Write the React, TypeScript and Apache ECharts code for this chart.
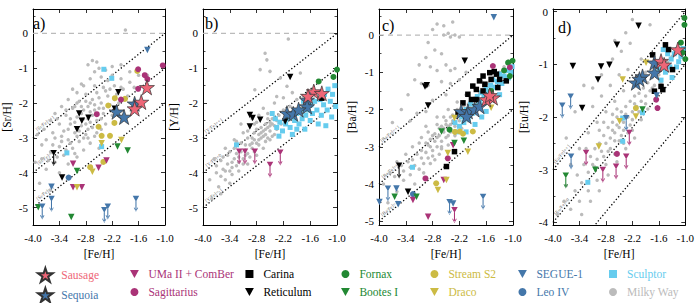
import React, { useEffect, useRef } from 'react';
import * as echarts from 'echarts';

type Pt = [number, number];

const FONT = '"Liberation Serif","Times New Roman",Times,serif';
const STAR = 'path://M50,0 L61.2,34.5 L97.6,34.5 L68.2,55.9 L79.4,90.5 L50,69.1 L20.6,90.5 L31.8,55.9 L2.4,34.5 L38.8,34.5 Z';
const TRI = 'path://M0,0 L10,0 L5,9 Z';
const SQUARE = 'path://M0,0 L10,0 L10,10 L0,10 Z';
const TRI_ARROW = 'path://M0,0 L10,0 L5,9 Z M4.2,8 L5.8,8 L5.8,23 L4.2,23 Z M1.6,18.5 L5,25 L8.4,18.5 L7.4,18 L5,22.6 L2.6,18 Z';

// ---------- axes ----------
const feMin = -4.0;
const feMax = -1.0;
const feStep = 0.6;
const panelLetters = ['a)', 'b)', 'c)', 'd)'];
const elements = ['Sr', 'Y', 'Ba', 'Eu'];
const yMins = [-5.5, -5.5, -5.1, -4.05];
const yMaxs = [0.7, 0.7, 0.7, 0.05];
const ratioOffsets = [1, 0, -1];
const ratioTexts = ['+1', '0', '-1'];

// ---------- panel a : [Sr/H] ----------
const srMilkyWay: Pt[] = [[-2.65,-0.78],[-2.55,-0.82],[-2.75,-0.9],[-2.5,-1.0],[-2.35,-1.05],[-2.6,-1.1],[-2.2,-1.2],[-2.45,-1.25],[-2.7,-1.3],[-2.3,-1.35],[-2.0,-1.3],[-1.8,-1.1],[-1.6,-1.2],[-1.9,0.1],[-2.85,-1.5],[-2.6,-1.5],[-2.4,-1.55],[-2.15,-1.5],[-1.95,-1.6],[-3.0,-1.7],[-2.8,-1.75],[-2.55,-1.7],[-2.3,-1.8],[-2.1,-1.75],[-3.2,-1.9],[-2.95,-1.95],[-2.7,-2.0],[-2.45,-2.0],[-2.25,-2.05],[-3.35,-2.1],[-3.1,-2.15],[-2.85,-2.2],[-2.6,-2.2],[-2.4,-2.3],[-3.5,-2.3],[-3.25,-2.35],[-3.0,-2.4],[-2.75,-2.45],[-2.55,-2.5],[-3.6,-2.5],[-3.4,-2.6],[-3.15,-2.6],[-2.9,-2.65],[-2.65,-2.7],[-3.3,-2.8],[-3.05,-2.85],[-2.8,-2.9],[-2.6,-2.95],[-3.5,-3.0],[-3.2,-3.05],[-2.95,-3.1],[-2.7,-3.15],[-3.4,-3.25],[-3.1,-3.3],[-2.85,-3.35],[-3.6,-3.4],[-3.3,-3.5],[-3.0,-3.55],[-3.5,-3.7],[-3.2,-3.75],[-3.7,-3.9],[-3.4,-4.0],[-3.85,-4.3],[-3.6,-4.5],[-3.9,-2.9],[-3.75,-2.75],[-2.35,-2.6],[-2.2,-2.35],[-2.05,-2.0],[-1.85,-1.8],[-1.7,-1.55],[-1.4,-1.2],[-3.8,-3.2],[-2.5,-3.3],[-2.9,-1.45],[-3.1,-1.6],[-2.2,-0.95],[-2.0,-0.9],[-2.9,-2.3],[-2.7,-2.25],[-2.5,-2.15],[-2.8,-2.6],[-2.55,-2.85],[-3.05,-2.55],[-3.2,-2.75],[-2.95,-2.8],[-2.7,-2.55],[-2.45,-2.45],[-3.35,-2.95],[-3.15,-3.15],[-2.85,-3.0],[-2.65,-1.9],[-2.35,-1.65],[-3.05,-2.1],[-2.8,-1.95],[-3.45,-3.55],[-3.65,-3.65],[-3.25,-3.35],[-3.0,-2.0],[-2.75,-2.1],[-2.5,-1.85],[-2.25,-1.6],[-3.25,-2.2],[-3.45,-2.45],[-3.0,-2.95],[-2.75,-3.0],[-2.45,-2.75],[-3.55,-2.85],[-3.7,-3.05],[-3.35,-3.1],[-3.15,-2.45],[-2.9,-2.1],[-2.65,-2.35],[-2.4,-2.15],[-2.15,-1.9],[-2.0,-1.55],[-1.8,-1.4],[-3.55,-3.2],[-3.05,-3.45],[-2.75,-2.75],[-2.85,-2.45],[-2.6,-2.05],[-3.8,-3.6],[-3.95,-3.7]];
const srSausage: Pt[] = [[-1.41,-1.55],[-1.54,-1.97],[-1.69,-2.16]];
const srSequoia: Pt[] = [[-1.69,-2.02],[-2.10,-2.25],[-1.93,-2.40]];
const srUMa: Pt[] = [[-3.09,-3.74],[-2.51,-3.86],[-2.33,-3.65],[-3.09,-4.42],[-2.89,-4.42]];
const srUMaLim: Pt[] = [];
const srSag: Pt[] = [[-1.05,-0.92],[-1.61,-1.03],[-1.46,-1.20],[-1.40,-1.31],[-1.61,-1.59],[-2.00,-1.90],[-2.55,-2.32]];
const srCarina: Pt[] = [];
const srReticulum: Pt[] = [[-2.95,-2.30],[-2.74,-2.42],[-2.89,-2.51],[-3.00,-2.75],[-2.06,-1.69],[-2.14,-2.16],[-3.34,-4.14]];
const srReticulumLim: Pt[] = [[-3.53,-3.43]];
const srFornax: Pt[] = [];
const srBootes: Pt[] = [[-2.08,-3.25],[-1.85,-3.36],[-3.00,-3.95],[-3.88,-4.99],[-3.13,-5.27]];
const srBootesLim: Pt[] = [];
const srS2: Pt[] = [[-1.63,-1.08],[-2.14,-1.86],[-1.91,-1.88],[-2.29,-2.07],[-2.15,-2.57],[-2.51,-2.68],[-2.44,-2.94],[-2.25,-2.94],[-2.40,-3.69],[-2.70,-3.84]];
const srDraco: Pt[] = [[-2.44,-3.15],[-1.99,-3.06],[-2.65,-3.97],[-3.00,-4.42]];
const srSegue: Pt[] = [[-1.40,-0.48],[-3.58,-4.40]];
const srSegueLim: Pt[] = [[-3.79,-4.97],[-3.58,-4.75],[-2.38,-5.07],[-2.30,-4.97],[-1.66,-4.75]];
const srLeo: Pt[] = [[-3.19,-4.14]];
const srSculptor: Pt[] = [[-2.39,-1.03],[-2.21,-1.29],[-3.23,-3.43],[-2.44,-3.25]];

// ---------- panel b : [Y/H] ----------
const yMilkyWay: Pt[] = [[-2.09,-0.16],[-2.61,-0.57],[-2.57,-0.76],[-2.72,-1.04],[-2.5,-1.09],[-2.84,-1.62],[-2.27,-1.28],[-1.82,-1.14],[-2.12,-1.52],[-2.35,-1.81],[-3.8,-4.75],[-3.65,-4.4],[-3.5,-4.2],[-3.55,-3.9],[-3.4,-3.95],[-3.35,-3.7],[-3.25,-3.8],[-3.2,-3.55],[-3.1,-3.6],[-3.05,-3.35],[-3.0,-3.45],[-2.95,-3.2],[-2.9,-3.3],[-2.85,-3.05],[-2.8,-3.15],[-2.75,-2.9],[-2.7,-3.0],[-2.65,-2.8],[-2.6,-2.9],[-2.55,-2.7],[-2.5,-2.8],[-2.45,-2.6],[-2.4,-2.65],[-2.35,-2.5],[-3.3,-3.3],[-3.15,-3.15],[-3.0,-3.0],[-2.85,-2.85],[-2.7,-2.7],[-2.6,-2.6],[-3.45,-3.5],[-3.6,-3.65],[-3.7,-4.0],[-3.2,-3.95],[-3.0,-3.75],[-2.8,-3.5],[-2.65,-3.3],[-2.5,-3.05],[-2.4,-2.9],[-3.1,-2.85],[-2.95,-2.65],[-2.8,-2.55],[-2.9,-2.45],[-3.3,-3.05],[-3.5,-3.3],[-3.75,-3.6],[-3.85,-4.2],[-2.75,-2.35],[-2.55,-2.45],[-2.3,-2.35],[-2.25,-2.6],[-3.4,-4.3],[-3.6,-4.6],[-3.25,-3.45],[-3.05,-3.2],[-2.9,-3.0],[-2.7,-2.85],[-2.5,-2.55],[-2.45,-2.95],[-2.6,-3.1],[-2.85,-3.4],[-3.1,-3.75],[-3.35,-4.05],[-2.2,-2.2],[-2.05,-2.1],[-1.9,-1.9],[-1.75,-1.8],[-2.95,-2.3],[-3.15,-2.6],[-2.65,-2.15],[-2.4,-2.0],[-2.2,-1.85],[-2.0,-1.7],[-3.15,-3.4],[-2.95,-3.55],[-2.75,-3.2],[-2.55,-3.0],[-3.3,-3.6],[-3.5,-3.95],[-3.35,-3.85],[-3.2,-3.7],[-3.05,-3.5],[-2.9,-3.15],[-2.75,-3.05],[-2.6,-2.75],[-2.5,-2.65],[-2.35,-2.75],[-3.4,-3.4],[-3.55,-3.55],[-3.7,-3.8],[-2.8,-2.75],[-2.65,-2.95],[-2.45,-2.45],[-2.55,-2.3],[-2.85,-2.6],[-3.0,-2.8],[-3.25,-3.1],[-3.45,-3.75],[-3.6,-4.1]];
const ySausage: Pt[] = [[-1.52,-1.67],[-1.34,-1.72],[-1.65,-1.80]];
const ySequoia: Pt[] = [[-1.67,-1.91],[-1.67,-2.10],[-2.12,-2.29],[-1.98,-2.31],[-1.86,-2.19]];
const yUMa: Pt[] = [];
const yUMaLim: Pt[] = [[-3.19,-3.39],[-3.06,-3.39],[-2.84,-3.39],[-2.27,-3.42],[-2.50,-3.77]];
const ySag: Pt[] = [];
const yCarina: Pt[] = [[-1.34,-1.86]];
const yReticulum: Pt[] = [[-2.05,-1.25],[-2.95,-2.34],[-2.89,-2.43],[-2.72,-2.48],[-2.95,-2.67],[-2.16,-2.53]];
const yReticulumLim: Pt[] = [];
const yFornax: Pt[] = [[-1.00,-1.04],[-1.08,-1.25],[-1.41,-1.38]];
const yBootes: Pt[] = [];
const yBootesLim: Pt[] = [];
const yS2: Pt[] = [];
const yDraco: Pt[] = [];
const ySegue: Pt[] = [];
const ySegueLim: Pt[] = [];
const yLeo: Pt[] = [];
const ySculptor: Pt[] = [[-2.38,-2.45],[-2.35,-2.7],[-2.3,-2.95],[-2.28,-2.55],[-2.22,-2.8],[-2.15,-2.6],[-2.1,-2.45],[-2.05,-2.7],[-2.0,-2.9],[-1.95,-2.5],[-1.9,-2.3],[-1.85,-2.6],[-1.8,-2.2],[-1.78,-2.45],[-1.72,-2.75],[-1.7,-2.35],[-1.65,-2.2],[-1.6,-2.5],[-1.58,-2.05],[-1.55,-2.3],[-1.5,-1.95],[-1.45,-2.2],[-1.42,-2.6],[-1.38,-1.9],[-1.35,-2.35],[-1.3,-2.05],[-1.28,-1.75],[-1.22,-2.2],[-1.2,-1.6],[-1.15,-1.95],[-1.12,-2.4],[-1.1,-1.75],[-1.05,-1.5],[-1.03,-2.1],[-1.6,-1.75],[-1.75,-1.95],[-3.25,-3.2],[-1.25,-2.65],[-1.9,-2.75],[-2.45,-2.3]];

// ---------- panel c : [Ba/H] ----------
const baMilkyWay: Pt[] = [[-2.7,0.3],[-2.55,0.25],[-2.35,0.35],[-2.45,0.05],[-2.3,0.0],[-2.2,-0.05],[-2.4,-0.05],[-2.55,0.0],[-2.8,0.15],[-2.9,-0.2],[-2.75,-0.4],[-2.6,-0.5],[-2.5,-0.8],[-2.4,-0.95],[-2.7,-0.95],[-2.3,-0.9],[-2.85,-0.85],[-2.95,-0.6],[-3.1,-0.8],[-3.2,-1.2],[-3.05,-1.3],[-2.9,-1.35],[-2.6,-1.25],[-2.4,-1.3],[-2.2,-1.2],[-2.05,-1.0],[-1.9,-1.35],[-3.35,-1.6],[-3.5,-2.0],[-3.7,-2.35],[-3.3,-2.3],[-3.15,-2.1],[-2.8,-1.75],[-2.5,-1.6],[-2.95,-2.05],[-3.6,-3.4],[-3.75,-3.7],[-3.9,-4.0],[-3.8,-4.5],[-3.6,-4.2],[-3.45,-3.9],[-3.3,-3.75],[-3.2,-3.5],[-3.1,-3.6],[-3.05,-3.3],[-3.0,-3.45],[-2.95,-3.15],[-2.9,-3.3],[-2.85,-3.0],[-2.8,-3.1],[-2.75,-2.85],[-2.7,-3.0],[-2.65,-2.7],[-2.6,-2.85],[-2.55,-2.6],[-2.5,-2.75],[-2.45,-2.45],[-2.4,-2.6],[-2.35,-2.3],[-2.3,-2.45],[-2.25,-2.15],[-2.2,-2.3],[-2.15,-2.0],[-2.1,-2.15],[-2.0,-1.85],[-1.95,-1.95],[-1.85,-1.7],[-1.75,-1.55],[-1.65,-1.4],[-1.55,-1.3],[-1.45,-1.15],[-1.3,-1.0],[-1.2,-0.85],[-1.1,-0.7],[-3.35,-3.4],[-3.15,-3.2],[-2.95,-2.9],[-2.8,-2.7],[-2.65,-2.5],[-2.5,-2.4],[-2.4,-2.2],[-3.25,-3.0],[-3.05,-2.75],[-2.9,-2.6],[-2.7,-2.4],[-2.55,-2.2],[-3.4,-3.2],[-2.85,-3.45],[-2.65,-3.2],[-2.45,-2.95],[-2.3,-2.7],[-3.0,-3.7],[-3.2,-4.0],[-2.75,-3.35],[-2.6,-3.05],[-2.95,-2.45],[-2.7,-2.2],[-2.45,-2.0],[-2.25,-1.8],[-2.05,-1.6],[-1.85,-1.45],[-1.7,-1.25],[-2.0,-2.3],[-2.15,-2.5],[-3.5,-3.5],[-3.65,-3.8],[-2.9,-2.95],[-2.75,-2.65],[-2.6,-2.45],[-2.5,-2.3],[-2.35,-2.15],[-2.8,-3.25],[-2.6,-3.0],[-2.45,-2.7],[-3.05,-3.1],[-3.25,-3.35],[-2.7,-2.75],[-2.55,-2.5],[-2.4,-2.4],[-2.85,-2.8],[-3.1,-2.9],[-2.25,-2.0],[-2.1,-1.9],[-1.95,-1.75],[-3.45,-3.65],[-3.3,-3.55]];
const baSausage: Pt[] = [[-1.45,-1.68],[-1.60,-1.73],[-1.52,-1.62]];
const baSequoia: Pt[] = [[-2.16,-2.05],[-2.01,-2.05],[-1.86,-2.00],[-1.75,-1.91],[-2.04,-2.18]];
const baUMa: Pt[] = [[-2.34,-2.96],[-3.24,-4.43],[-2.55,-3.89],[-2.90,-4.88]];
const baUMaLim: Pt[] = [[-2.31,-4.70]];
const baSag: Pt[] = [[-1.45,-0.83],[-2.46,-3.31],[-2.96,-3.85],[-1.07,-0.87]];
const baCarina: Pt[] = [[-1.52,-1.01],[-1.37,-1.05],[-1.67,-1.10],[-1.49,-1.19],[-1.75,-1.23],[-1.30,-1.19],[-1.90,-1.37],[-1.82,-1.46],[-1.67,-1.50],[-2.01,-1.59],[-1.93,-1.73],[-1.82,-1.73],[-2.12,-1.82],[-1.34,-1.41],[-1.15,-1.23],[-2.23,-2.09],[-2.31,-3.13],[-2.49,-3.53],[-1.63,-1.32],[-1.42,-0.98]];
const baReticulum: Pt[] = [[-2.08,-0.69],[-2.93,-1.35],[-2.97,-1.38],[-2.90,-1.89],[-3.35,-4.21]];
const baReticulumLim: Pt[] = [[-3.55,-3.50]];
const baFornax: Pt[] = [[-1.01,-0.69],[-1.11,-0.74],[-1.49,-1.50],[-1.07,-1.10],[-2.42,-2.54],[-1.20,-0.95]];
const baBootes: Pt[] = [[-2.60,-2.59],[-2.31,-2.90],[-2.10,-2.84],[-3.65,-4.34],[-3.16,-4.34]];
const baBootesLim: Pt[] = [];
const baS2: Pt[] = [[-2.19,-2.59],[-2.12,-2.65],[-1.90,-2.59],[-2.72,-3.98],[-2.30,-2.60]];
const baDraco: Pt[] = [[-1.49,-1.95],[-2.31,-2.23],[-2.46,-3.17],[-2.01,-3.13],[-2.68,-4.16],[-2.49,-3.89]];
const baSegue: Pt[] = [[-1.43,0.48],[-3.99,-4.48],[-3.61,-4.12],[-3.57,-4.54],[-2.34,-4.52]];
const baSegueLim: Pt[] = [[-3.80,-4.12],[-2.42,-4.48],[-1.67,-4.34]];
const baLeo: Pt[] = [[-3.24,-4.27]];
const baSculptor: Pt[] = [[-1.02,-0.85],[-1.05,-1.0],[-1.1,-1.15],[-1.15,-0.95],[-1.2,-1.1],[-1.25,-1.3],[-1.3,-1.05],[-1.35,-1.25],[-1.4,-1.4],[-1.45,-1.2],[-1.5,-1.35],[-1.55,-1.55],[-1.6,-1.45],[-1.65,-1.65],[-1.7,-1.55],[-1.75,-1.8],[-1.8,-1.65],[-1.85,-1.9],[-1.9,-2.1],[-1.95,-1.85],[-2.0,-2.25],[-2.05,-2.0],[-2.1,-2.35],[-2.15,-2.2],[-2.2,-2.45],[-2.25,-2.6],[-1.7,-2.2],[-1.85,-2.4],[-1.6,-2.05],[-2.05,-2.6],[-3.25,-3.55],[-1.3,-1.6],[-2.3,-2.35]];

// ---------- panel d : [Eu/H] ----------
const euMilkyWay: Pt[] = [[-3.9,-3.85],[-3.75,-3.6],[-3.6,-3.75],[-3.7,-3.3],[-3.5,-3.4],[-3.45,-3.1],[-3.35,-3.25],[-3.3,-2.9],[-3.2,-3.05],[-3.15,-2.75],[-3.1,-2.9],[-3.05,-2.6],[-3.0,-2.8],[-2.95,-2.5],[-2.9,-2.65],[-2.85,-2.35],[-2.8,-2.5],[-2.75,-2.2],[-2.7,-2.4],[-2.65,-2.1],[-2.6,-2.3],[-2.55,-2.0],[-2.5,-2.2],[-2.45,-1.9],[-2.4,-2.1],[-2.35,-1.8],[-2.3,-2.0],[-2.25,-1.7],[-2.2,-1.9],[-2.15,-1.6],[-2.1,-1.8],[-2.05,-1.55],[-2.0,-1.7],[-1.95,-1.45],[-1.9,-1.6],[-1.85,-1.35],[-1.8,-1.5],[-1.75,-1.25],[-1.7,-1.4],[-1.6,-1.2],[-1.5,-1.1],[-1.4,-0.95],[-1.3,-0.85],[-1.2,-0.7],[-3.4,-3.6],[-3.2,-3.4],[-3.0,-3.2],[-2.8,-2.9],[-2.6,-2.7],[-2.4,-2.5],[-2.2,-2.25],[-3.6,-2.9],[-3.4,-2.6],[-3.2,-2.3],[-3.0,-2.1],[-2.8,-1.9],[-2.6,-1.7],[-2.4,-1.5],[-2.7,-1.4],[-2.9,-1.6],[-3.1,-1.8],[-3.3,-1.4],[-3.5,-1.9],[-3.7,-2.4],[-2.5,-1.2],[-2.3,-1.1],[-2.65,-0.9],[-2.45,-0.75],[-2.25,-0.6],[-2.35,-0.4],[-2.2,-0.15],[-1.8,-0.25],[-2.6,-0.55],[-2.9,-1.2],[-3.1,-1.45],[-2.0,-0.9],[-1.9,-1.15],[-2.75,-3.1],[-2.95,-3.4],[-3.15,-3.6],[-3.35,-3.85],[-2.55,-2.85],[-2.35,-2.6],[-2.15,-2.4],[-2.0,-2.05],[-1.85,-1.85],[-1.65,-1.6],[-2.7,-2.6],[-2.5,-2.45],[-2.3,-2.3],[-2.45,-2.05],[-2.65,-2.25],[-2.6,-2.45],[-2.4,-2.25],[-2.2,-2.05],[-2.75,-2.65],[-2.55,-2.15],[-2.35,-1.95],[-2.15,-1.75],[-2.85,-2.75],[-3.05,-2.95],[-2.45,-2.35],[-2.25,-2.15],[-2.05,-1.9],[-1.9,-1.75],[-2.65,-1.95],[-2.85,-2.1],[-3.25,-2.6],[-2.95,-2.25],[-2.55,-1.85],[-1.75,-1.45],[-1.55,-1.35]];
const euSausage: Pt[] = [[-1.17,-0.72],[-1.55,-0.94],[-1.48,-1.01]];
const euSequoia: Pt[] = [[-1.70,-0.97],[-1.70,-1.16],[-1.97,-1.23],[-2.12,-1.35],[-2.04,-1.28]];
const euUMa: Pt[] = [[-1.44,-1.07]];
const euUMaLim: Pt[] = [[-3.25,-2.68],[-2.87,-3.00],[-2.57,-2.94],[-2.34,-2.75],[-2.27,-2.30]];
const euSag: Pt[] = [[-1.66,-1.67],[-1.63,-1.83],[-2.55,-2.70]];
const euCarina: Pt[] = [[-1.45,-0.63],[-1.38,-0.72],[-1.74,-0.82],[-1.29,-1.10],[-1.55,-1.42],[-1.51,-1.48],[-1.70,-1.51]];
const euReticulum: Pt[] = [[-2.06,-0.27],[-2.55,-0.63],[-2.91,-1.04],[-2.72,-1.01],[-3.55,-1.03],[-2.98,-1.29],[-3.34,-1.83]];
const euReticulumLim: Pt[] = [];
const euFornax: Pt[] = [[-1.02,-0.12],[-1.02,-0.25],[-1.10,-0.59],[-1.06,-0.78],[-1.00,-0.90]];
const euBootes: Pt[] = [[-3.04,-3.00],[-1.97,-1.86]];
const euBootesLim: Pt[] = [[-3.71,-3.11]];
const euS2: Pt[] = [[-2.12,-1.83]];
const euDraco: Pt[] = [[-2.42,-1.29],[-1.89,-0.97],[-2.96,-2.56],[-2.49,-2.08],[-2.12,-1.99]];
const euSegue: Pt[] = [[-1.65,-1.59]];
const euSegueLim: Pt[] = [[-3.79,-1.78],[-3.60,-1.61],[-3.59,-2.75],[-2.34,-2.02]];
const euLeo: Pt[] = [];
const euSculptor: Pt[] = [[-1.5,-0.72],[-1.4,-0.8],[-1.32,-0.9],[-1.25,-0.8],[-1.15,-0.95],[-1.1,-0.85],[-1.2,-1.05],[-1.35,-1.05],[-1.45,-1.15],[-1.55,-1.3],[-1.3,-1.25],[-1.6,-1.1],[-2.42,-2.02],[-2.42,-2.46],[-3.21,-3.24],[-1.97,-1.92],[-1.05,-0.7]];

// ---------- categories ----------
const categories: any[] = [
  { name: 'Milky Way', symbol: 'circle', icon: 'circle', size: 3.5, color: '#BBBBBB', data: [srMilkyWay, yMilkyWay, baMilkyWay, euMilkyWay] },
  { name: 'Sculptor', symbol: 'rect', icon: SQUARE, size: 5, color: '#66CCEE', data: [srSculptor, ySculptor, baSculptor, euSculptor] },
  { name: 'Carina', symbol: 'rect', icon: SQUARE, size: 5.5, color: '#000000', data: [srCarina, yCarina, baCarina, euCarina] },
  { name: 'Fornax', symbol: 'circle', icon: 'circle', size: 6, color: '#228833', data: [srFornax, yFornax, baFornax, euFornax] },
  { name: 'Stream S2', symbol: 'circle', icon: 'circle', size: 6, color: '#CCBB44', data: [srS2, yS2, baS2, euS2] },
  { name: 'Sagittarius', symbol: 'circle', icon: 'circle', size: 6, color: '#AA3377', data: [srSag, ySag, baSag, euSag] },
  { name: 'Leo IV', symbol: 'circle', icon: 'circle', size: 6, color: '#4477AA', data: [srLeo, yLeo, baLeo, euLeo] },
  { name: 'UMa II + ComBer', symbol: TRI, icon: TRI, size: 6.5, color: '#AA3377', data: [srUMa, yUMa, baUMa, euUMa], lim: [srUMaLim, yUMaLim, baUMaLim, euUMaLim] },
  { name: 'Reticulum', symbol: TRI, icon: TRI, size: 6.5, color: '#000000', data: [srReticulum, yReticulum, baReticulum, euReticulum], lim: [srReticulumLim, yReticulumLim, baReticulumLim, euReticulumLim] },
  { name: 'Bootes I', symbol: TRI, icon: TRI, size: 6.5, color: '#228833', data: [srBootes, yBootes, baBootes, euBootes], lim: [srBootesLim, yBootesLim, baBootesLim, euBootesLim] },
  { name: 'Draco', symbol: TRI, icon: TRI, size: 6.5, color: '#CCBB44', data: [srDraco, yDraco, baDraco, euDraco] },
  { name: 'SEGUE-1', symbol: TRI, icon: TRI, size: 6.5, color: '#4477AA', data: [srSegue, ySegue, baSegue, euSegue], lim: [srSegueLim, ySegueLim, baSegueLim, euSegueLim] },
  { name: 'Sequoia', symbol: STAR, icon: STAR, size: 15, color: '#4477AA', data: [srSequoia, ySequoia, baSequoia, euSequoia] },
  { name: 'Sausage', symbol: STAR, icon: STAR, size: 15, color: '#EE6677', data: [srSausage, ySausage, baSausage, euSausage] },
];

const legendColumns = [
  ['Sausage', 'Sequoia'],
  ['UMa II + ComBer', 'Sagittarius'],
  ['Carina', 'Reticulum'],
  ['Fornax', 'Bootes I'],
  ['Stream S2', 'Draco'],
  ['SEGUE-1', 'Leo IV'],
  ['Sculptor', 'Milky Way'],
];

// layout (pixels)
const grids = [
  { left: 30, top: 9, width: 135, height: 216 },
  { left: 203, top: 9, width: 134, height: 216 },
  { left: 379, top: 9, width: 134, height: 216 },
  { left: 553, top: 9, width: 133, height: 216 },
];
const yNameGaps = [20, 23, 21, 23];
const lineLabelAngles = [38, 38, 39.5, 49.5];
const lineLabelX = [-3.72, -3.76, -3.75, -3.8];
const lineLabelLift = [0.14, 0.11, 0.1, 0.1];
const letterPos = [[33, 23], [205, 23], [382, 25], [558, 27]];
const legendLefts = [37, 130, 245, 341, 430, 518, 609];

function intLabel(v: number) {
  return Math.abs(v - Math.round(v)) < 1e-6 ? String(Math.round(v)) : '';
}

function buildOption() {
  const xAxis: any[] = [];
  const yAxis: any[] = [];
  const series: any[] = [];
  const tickCommon = { inside: true, length: 4, lineStyle: { color: '#000', width: 0.8 } };
  const minorCommon = { show: true, splitNumber: 2, length: 2.5, lineStyle: { color: '#000', width: 0.7 } };
  const lineCommon = { show: true, onZero: false, lineStyle: { color: '#000', width: 1 } };
  grids.forEach((_, i) => {
    xAxis.push({
      type: 'value', gridIndex: i, min: feMin, max: feMax, interval: feStep, position: 'bottom',
      name: '[Fe/H]', nameLocation: 'middle', nameGap: 19,
      nameTextStyle: { fontFamily: FONT, fontSize: 11.5, color: '#000000' },
      axisLine: lineCommon, axisTick: tickCommon,
      axisLabel: { fontFamily: FONT, fontSize: 11, color: '#000', margin: 7, formatter: (v: number) => v.toFixed(1), showMinLabel: true, showMaxLabel: true },
      splitLine: { show: false },
    });
    yAxis.push({
      type: 'value', gridIndex: i, min: yMins[i], max: yMaxs[i], splitNumber: 5, position: 'left',
      name: '[' + elements[i] + '/H]', nameLocation: 'middle', nameGap: yNameGaps[i],
      nameTextStyle: { fontFamily: FONT, fontSize: 11.5, color: '#000000' },
      axisLine: lineCommon, axisTick: tickCommon, minorTick: minorCommon,
      axisLabel: { fontFamily: FONT, fontSize: 11, color: '#000', margin: 5, formatter: intLabel },
      splitLine: { show: false }, minorSplitLine: { show: false },
    });
  });
  grids.forEach((_, i) => {
    xAxis.push({
      type: 'value', gridIndex: i, min: feMin, max: feMax, interval: feStep, position: 'top',
      axisLine: lineCommon, axisTick: tickCommon,
      axisLabel: { show: false }, splitLine: { show: false },
    });
    yAxis.push({
      type: 'value', gridIndex: i, min: yMins[i], max: yMaxs[i], splitNumber: 5, position: 'right',
      axisLine: lineCommon, axisTick: tickCommon, minorTick: minorCommon,
      axisLabel: { show: false }, splitLine: { show: false }, minorSplitLine: { show: false },
    });
  });

  grids.forEach((_, i) => {
    if (yMaxs[i] > 0.2) {
      series.push({
        type: 'line', xAxisIndex: i, yAxisIndex: i, silent: true, symbol: 'none', z: 1,
        data: [[feMin, 0], [feMax, 0]],
        lineStyle: { color: '#BBBBBB', width: 1.2, type: [5, 4] },
      });
    }
    ratioOffsets.forEach((k, j) => {
      series.push({
        type: 'line', xAxisIndex: i, yAxisIndex: i, silent: true, symbol: 'none', z: 1, clip: true,
        data: [[feMin, feMin + k], [feMax, feMax + k]],
        lineStyle: { color: '#000', width: 1.3, type: [1.3, 2.2] },
      });
      const lx = lineLabelX[i];
      const ly = lx + k + lineLabelLift[i];
      if (ly > yMins[i] + 0.05) {
        series.push({
          type: 'scatter', xAxisIndex: i, yAxisIndex: i, silent: true, symbolSize: 0, z: 2,
          data: [[lx, ly]],
          label: {
            show: true, position: 'inside', rotate: lineLabelAngles[i],
            formatter: '[' + elements[i] + '/Fe]=' + ratioTexts[j],
            fontFamily: FONT, fontSize: 5, color: '#333',
          },
        });
      }
    });
    categories.forEach((c, ci) => {
      const isStar = c.symbol === STAR;
      series.push({
        type: 'scatter', name: c.name, xAxisIndex: i, yAxisIndex: i,
        data: c.data[i], symbol: c.symbol, symbolSize: c.size, z: 3 + ci,
        itemStyle: {
          color: c.color, opacity: 1,
          borderColor: isStar ? '#333' : c.color, borderWidth: isStar ? 0.7 : 0,
        },
      });
      if (c.lim && c.lim[i].length) {
        series.push({
          type: 'scatter', name: c.name, xAxisIndex: i, yAxisIndex: i,
          data: c.lim[i], symbol: TRI_ARROW, symbolSize: [6.5, 16], symbolOffset: [0, 5], z: 3 + ci,
          itemStyle: { color: c.color, opacity: 1 },
        });
      }
    });
  });

  const iconFor = (name: string) => {
    const c = categories.find((x) => x.name === name)!;
    return { name, icon: c.icon, textStyle: { color: c.color } };
  };
  const legend = legendColumns.map((col, ci) => ({
    orient: 'vertical', left: legendLefts[ci], top: 267, height: 36, padding: 0, itemGap: 4,
    itemWidth: ci === 0 ? 22 : 18, itemHeight: ci === 0 ? 14 : 8,
    selectedMode: false,
    textStyle: { fontFamily: FONT, fontSize: 11.5, lineHeight: 14 },
    data: col.map(iconFor),
  }));

  const graphic = panelLetters.map((t, i) => ({
    type: 'text', x: letterPos[i][0], y: letterPos[i][1], silent: true,
    style: { text: t, fontFamily: FONT, fontSize: 16, fill: '#000', verticalAlign: 'middle' },
  }));

  return {
    animation: false,
    backgroundColor: '#ffffff',
    grid: grids.map((g) => ({ ...g })),
    xAxis, yAxis, series, legend, graphic,
  };
}

export default function App() {
  const ref = useRef<HTMLDivElement>(null);
  useEffect(() => {
    if (!ref.current) return;
    const chart = echarts.init(ref.current, undefined, { renderer: 'svg' });
    chart.setOption(buildOption() as any);
    return () => chart.dispose();
  }, []);
  return <div ref={ref} style={{ width: 697, height: 303, position: 'absolute', left: 0, top: 0 }} />;
}
